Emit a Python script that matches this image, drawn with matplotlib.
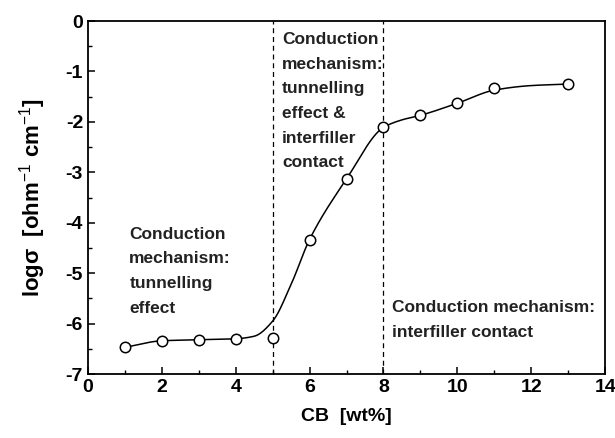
import numpy as np
import matplotlib as mpl
mpl.use('Agg')
import matplotlib.pyplot as plt
from matplotlib.ticker import MultipleLocator

plt.rcParams['font.family'] = ['Liberation Sans', 'DejaVu Sans']
plt.rcParams['mathtext.fontset'] = 'custom'
plt.rcParams['mathtext.rm'] = 'Liberation Sans'
plt.rcParams['axes.unicode_minus'] = False
plt.rcParams['xtick.direction'] = 'in'
plt.rcParams['ytick.direction'] = 'in'

# measured conductivity vs carbon black loading
cb_wt = [1, 2, 3, 4, 5, 6, 7, 8, 9, 10, 11, 13]
log_sigma = [-6.47, -6.34, -6.32, -6.31, -6.29, -4.34, -3.13, -2.11, -1.87, -1.63, -1.32, -1.25]

# guide curve drawn through the data
curve_x = [1, 2, 3, 4, 4.5, 5, 5.5, 6, 7, 8, 8.5, 9, 10, 11, 12, 13]
curve_y = [-6.47, -6.34, -6.32, -6.30, -6.25, -5.95, -5.22, -4.33, -3.13, -2.11,
           -1.96, -1.87, -1.63, -1.37, -1.28, -1.25]

thresholds = [5, 8]


def pchip(x, y, xs):
    # monotone cubic (Fritsch-Carlson) so the flat part doesn't ring
    x = np.asarray(x, float)
    y = np.asarray(y, float)
    h = np.diff(x)
    d = np.diff(y) / h
    m = np.zeros_like(y)
    for k in range(1, len(x) - 1):
        if d[k - 1] * d[k] > 0:
            w1 = 2 * h[k] + h[k - 1]
            w2 = h[k] + 2 * h[k - 1]
            m[k] = (w1 + w2) / (w1 / d[k - 1] + w2 / d[k])
    m[0] = d[0]
    m[-1] = d[-1]
    idx = np.clip(np.searchsorted(x, xs) - 1, 0, len(x) - 2)
    t = (xs - x[idx]) / h[idx]
    h00 = 2 * t**3 - 3 * t**2 + 1
    h10 = t**3 - 2 * t**2 + t
    h01 = -2 * t**3 + 3 * t**2
    h11 = t**3 - t**2
    return h00 * y[idx] + h10 * h[idx] * m[idx] + h01 * y[idx + 1] + h11 * h[idx] * m[idx + 1]


fig = plt.figure(figsize=(6.15, 4.38), dpi=100)
ax = fig.add_axes([0.143, 0.146, 0.841, 0.806])

xs = np.linspace(curve_x[0], curve_x[-1], 400)
ax.plot(xs, pchip(curve_x, curve_y, xs), color='k', lw=1.1, zorder=2)
ax.plot(cb_wt, log_sigma, linestyle='none', marker='o', ms=7.5, mfc='white',
        mec='k', mew=1.1, zorder=3)

for xv in thresholds:
    ax.axvline(xv, color='k', lw=0.9, linestyle=(0, (4, 3)), zorder=1)

txt = dict(fontsize=12.5, fontweight='bold', color='#222222', va='top', ha='left',
           linespacing=1.8)
ax.text(1.12, -4.08, "Conduction\nmechanism:\ntunnelling\neffect", **txt)
ax.text(5.25, -0.22, "Conduction\nmechanism:\ntunnelling\neffect &\ninterfiller\ncontact", **txt)
ax.text(8.22, -5.54, "Conduction mechanism:\ninterfiller contact", **txt)

ax.set_xlim(0, 14)
ax.set_ylim(-7, 0)
ax.xaxis.set_major_locator(MultipleLocator(2))
ax.xaxis.set_minor_locator(MultipleLocator(1))
ax.yaxis.set_major_locator(MultipleLocator(1))
ax.yaxis.set_minor_locator(MultipleLocator(0.5))
ax.tick_params(which='major', length=5, width=1.1, labelsize=14, top=False, right=False)
ax.tick_params(which='minor', length=3, width=1.0, top=False, right=False)
for lab in ax.get_xticklabels() + ax.get_yticklabels():
    lab.set_fontweight('bold')
for s in ax.spines.values():
    s.set_linewidth(1.3)

ax.set_xlabel("CB  [wt%]", fontsize=14, fontweight='bold', labelpad=9)
ax.set_ylabel("log\u03c3  [ohm$^{-1}$ cm$^{-1}$]", fontsize=16, fontweight='bold', labelpad=13)

fig.savefig('out.png', dpi=100)
